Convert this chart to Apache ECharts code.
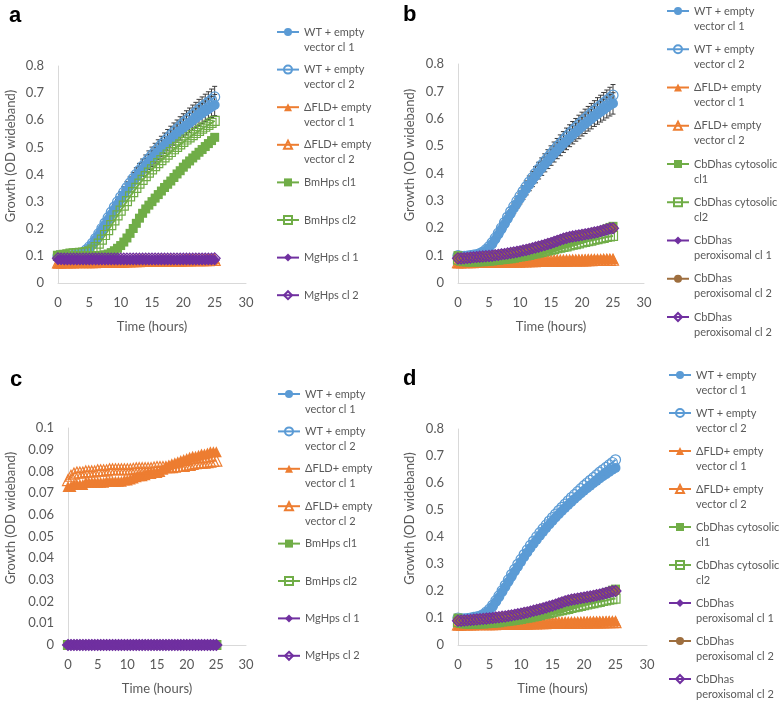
<!DOCTYPE html>
<html><head><meta charset="utf-8">
<script src="https://cdn.jsdelivr.net/npm/echarts@6/dist/echarts.min.js"></script>
<style>html,body{margin:0;padding:0;background:#fff}#c{width:784px;height:704px}</style>
</head><body><div id="c"></div><script>
// ---- data ----
const T = [0,0.5,1,1.5,2,2.5,3,3.5,4,4.5,5,5.5,6,6.5,7,7.5,8,8.5,9,9.5,10,10.5,11,11.5,12,12.5,13,13.5,14,14.5,15,15.5,16,16.5,17,17.5,18,18.5,19,19.5,20,20.5,21,21.5,22,22.5,23,23.5,24,24.5,25];
const xTicks = [0,5,10,15,20,25,30];
const wt1 = [0.095,0.095,0.096,0.097,0.098,0.100,0.102,0.105,0.110,0.118,
  0.128,0.142,0.159,0.177,0.196,0.215,0.234,0.253,0.272,0.290,
  0.308,0.326,0.343,0.359,0.375,0.390,0.405,0.419,0.433,0.446,
  0.459,0.472,0.484,0.496,0.508,0.519,0.530,0.541,0.551,0.561,
  0.571,0.581,0.590,0.599,0.608,0.617,0.625,0.633,0.641,0.649,0.656];
const wt2 = [0.100,0.097,0.097,0.098,0.100,0.102,0.104,0.107,0.113,0.122,
  0.133,0.147,0.164,0.182,0.201,0.221,0.241,0.261,0.280,0.299,
  0.317,0.335,0.352,0.369,0.385,0.401,0.416,0.431,0.445,0.459,
  0.472,0.485,0.498,0.510,0.522,0.534,0.546,0.557,0.568,0.579,
  0.590,0.600,0.610,0.620,0.630,0.640,0.649,0.658,0.667,0.676,0.686];
const wtErr = [0.003,0.003,0.003,0.003,0.003,0.003,0.004,0.004,0.004,0.005,
  0.006,0.007,0.008,0.010,0.011,0.013,0.014,0.015,0.017,0.018,
  0.019,0.020,0.021,0.022,0.023,0.024,0.025,0.026,0.027,0.028,
  0.029,0.030,0.030,0.031,0.031,0.032,0.032,0.033,0.033,0.034,
  0.034,0.035,0.035,0.036,0.036,0.037,0.037,0.038,0.038,0.039,0.039];
const dfld1 = [0.073,0.073,0.074,0.074,0.074,0.074,0.075,0.075,0.075,0.075,
  0.075,0.075,0.075,0.0755,0.0755,0.0755,0.0755,0.0755,0.0755,0.076,
  0.076,0.0765,0.077,0.0775,0.078,0.078,0.0785,0.079,0.079,0.0795,
  0.0795,0.080,0.081,0.082,0.083,0.0835,0.084,0.0845,0.085,0.0855,
  0.086,0.0865,0.087,0.087,0.0875,0.088,0.088,0.0885,0.089,0.089,0.089];
const dfld2 = [0.076,0.078,0.079,0.0795,0.0795,0.0795,0.080,0.080,0.080,0.080,
  0.0805,0.0805,0.0805,0.0805,0.081,0.081,0.081,0.081,0.081,0.081,
  0.081,0.081,0.0812,0.0814,0.0815,0.0815,0.0815,0.0815,0.0815,0.0818,
  0.082,0.082,0.082,0.082,0.082,0.082,0.0822,0.0825,0.0825,0.0825,
  0.083,0.083,0.0835,0.0838,0.084,0.084,0.084,0.0843,0.0845,0.0848,0.085];
const bmHps1 = [0.100,0.100,0.100,0.100,0.100,0.100,0.100,0.100,0.100,0.100,
  0.100,0.100,0.100,0.101,0.102,0.104,0.107,0.112,0.119,0.128,
  0.138,0.151,0.166,0.183,0.201,0.220,0.239,0.257,0.273,0.287,
  0.300,0.313,0.326,0.339,0.352,0.364,0.376,0.389,0.402,0.414,
  0.427,0.439,0.450,0.461,0.471,0.482,0.492,0.503,0.514,0.525,0.537];
const bmHps2 = [0.100,0.102,0.104,0.106,0.108,0.109,0.110,0.111,0.112,0.114,
  0.117,0.123,0.132,0.145,0.160,0.177,0.195,0.213,0.231,0.249,
  0.267,0.285,0.302,0.319,0.335,0.351,0.366,0.380,0.394,0.407,
  0.419,0.431,0.442,0.453,0.463,0.473,0.483,0.493,0.502,0.511,
  0.520,0.529,0.537,0.545,0.553,0.561,0.569,0.576,0.583,0.590,0.598];
const mgHps1 = [0.086,0.086,0.085,0.085,0.085,0.085,0.085,0.085,0.085,0.085,
  0.085,0.085,0.085,0.085,0.085,0.085,0.085,0.085,0.085,0.085,
  0.085,0.085,0.085,0.085,0.085,0.085,0.085,0.085,0.085,0.085,
  0.085,0.085,0.085,0.085,0.085,0.085,0.085,0.085,0.085,0.085,
  0.085,0.085,0.085,0.085,0.085,0.085,0.085,0.085,0.085,0.085,0.085];
const mgHps2 = [0.091,0.090,0.090,0.090,0.090,0.090,0.090,0.090,0.090,0.090,
  0.090,0.090,0.090,0.090,0.090,0.090,0.090,0.090,0.090,0.090,
  0.090,0.090,0.090,0.090,0.090,0.090,0.090,0.090,0.090,0.090,
  0.090,0.090,0.090,0.090,0.090,0.090,0.090,0.090,0.090,0.090,
  0.090,0.090,0.090,0.090,0.090,0.090,0.090,0.090,0.090,0.090,0.091];
const cyt1 = [0.100,0.090,0.085,0.083,0.082,0.082,0.082,0.083,0.083,0.084,
  0.085,0.086,0.087,0.088,0.089,0.091,0.093,0.095,0.097,0.099,
  0.101,0.104,0.106,0.109,0.111,0.114,0.117,0.120,0.123,0.126,
  0.129,0.132,0.135,0.139,0.142,0.145,0.149,0.152,0.156,0.159,
  0.163,0.167,0.171,0.175,0.179,0.184,0.188,0.193,0.198,0.203,0.207];
const cyt2 = [0.085,0.082,0.080,0.079,0.079,0.079,0.079,0.080,0.080,0.081,
  0.082,0.083,0.084,0.085,0.087,0.088,0.090,0.091,0.093,0.095,
  0.097,0.099,0.101,0.103,0.106,0.108,0.111,0.114,0.116,0.119,
  0.122,0.124,0.127,0.129,0.132,0.134,0.137,0.140,0.142,0.145,
  0.148,0.150,0.153,0.155,0.158,0.160,0.163,0.165,0.168,0.170,0.172];
const perox1 = [0.088,0.088,0.089,0.090,0.091,0.092,0.093,0.094,0.095,0.096,
  0.097,0.098,0.100,0.101,0.103,0.104,0.106,0.108,0.110,0.112,
  0.114,0.117,0.119,0.122,0.125,0.128,0.131,0.134,0.137,0.141,
  0.144,0.148,0.152,0.156,0.160,0.163,0.166,0.168,0.170,0.172,
  0.174,0.176,0.178,0.180,0.182,0.184,0.187,0.190,0.193,0.196,0.198];
const perox2 = [0.090,0.090,0.091,0.092,0.093,0.094,0.095,0.096,0.097,0.098,
  0.099,0.100,0.102,0.103,0.105,0.106,0.108,0.110,0.112,0.114,
  0.116,0.119,0.121,0.124,0.127,0.130,0.133,0.136,0.139,0.143,
  0.146,0.150,0.154,0.158,0.162,0.165,0.168,0.170,0.172,0.174,
  0.176,0.178,0.180,0.182,0.185,0.187,0.190,0.193,0.196,0.199,0.200];
const zerosC = [0,0,0,0,0,0,0,0,0,0, 0,0,0,0,0,0,0,0,0,0, 0,0,0,0,0,0,0,0,0,0,
  0,0,0,0,0,0,0,0,0,0, 0,0,0,0,0,0,0,0,0,0, 0];
const noData = [];

const legendAC = ['WT + empty\nvector cl 1','WT + empty\nvector cl 2','ΔFLD+ empty\nvector cl 1','ΔFLD+ empty\nvector cl 2','BmHps cl1','BmHps cl2','MgHps cl 1','MgHps cl 2'];
const legendBD = ['WT + empty\nvector cl 1','WT + empty\nvector cl 2','ΔFLD+ empty\nvector cl 1','ΔFLD+ empty\nvector cl 2','CbDhas cytosolic\ncl1','CbDhas cytosolic\ncl2','CbDhas\nperoxisomal cl 1','CbDhas\nperoxisomal cl 2','CbDhas\nperoxisomal cl 2'];
const panelLetters = ['a','b','c','d'];
const yTitle = 'Growth (OD wideband)';
const xTitle = 'Time (hours)';

// ---- styles ----
const FONT = 'Lato';
const GRAY = '#595959';
const STY = {
  wt1:{c:'#5B9BD5',s:'circle',z:10,f:true}, wt2:{c:'#5B9BD5',s:'circle',z:10,f:false},
  fl1:{c:'#ED7D31',s:'triangle',z:11,f:true}, fl2:{c:'#ED7D31',s:'triangle',z:11,f:false},
  g1:{c:'#70AD47',s:'rect',z:9,f:true}, g2:{c:'#70AD47',s:'rect',z:9,f:false},
  p1:{c:'#7030A0',s:'diamond',z:11,f:true}, p2:{c:'#7030A0',s:'diamond',z:11,f:false},
  br:{c:'#9E6E3E',s:'circle',z:10,f:true}
};
const LABELS = {};
function lineS(name, label, key, ys, gi){
  LABELS[name] = label;
  const s = STY[key];
  return {name, type:'line', xAxisIndex:gi, yAxisIndex:gi,
    data: ys.map((v,i)=>[T[i], v]),
    symbol:s.s, symbolSize:s.z, showSymbol:true,
    lineStyle:{color:s.c, width:2},
    itemStyle: s.f ? {color:s.c} : {color:'rgba(255,255,255,0)', borderColor:s.c, borderWidth:1.2},
    emphasis:{disabled:true}, animation:false, clip:false};
}
function errS(name, ys, es, gi){
  return {name, type:'custom', xAxisIndex:gi, yAxisIndex:gi, silent:true, animation:false,
    data: ys.map((v,i)=>[T[i], v, es[i]]),
    renderItem:function(params, api){
      const x=api.value(0), y=api.value(1), e=api.value(2);
      const p1=api.coord([x,y+e]), p2=api.coord([x,y-e]); const w=2.5;
      const st={stroke:'#3a3a3a', lineWidth:1};
      return {type:'group', children:[
        {type:'line', shape:{x1:p1[0],y1:p1[1],x2:p2[0],y2:p2[1]}, style:st},
        {type:'line', shape:{x1:p1[0]-w,y1:p1[1],x2:p1[0]+w,y2:p1[1]}, style:st},
        {type:'line', shape:{x1:p2[0]-w,y1:p2[1],x2:p2[0]+w,y2:p2[1]}, style:st}]};
    }};
}
const series = [];
// panel a
series.push(errS('ea1', wt1, wtErr, 0), errS('ea2', wt2, wtErr, 0));
[[wt1,'wt1'],[wt2,'wt2'],[dfld1,'fl1'],[dfld2,'fl2'],[bmHps1,'g1'],[bmHps2,'g2'],[mgHps1,'p1'],[mgHps2,'p2']]
  .forEach((d,i)=>series.push(lineS('a'+i, legendAC[i], d[1], d[0], 0)));
// panel b
series.push(errS('eb1', wt1, wtErr, 1), errS('eb2', wt2, wtErr, 1));
const bdSets = [[wt1,'wt1'],[wt2,'wt2'],[dfld1,'fl1'],[dfld2,'fl2'],[cyt1,'g1'],[cyt2,'g2'],[perox1,'p1'],[perox2,'br'],[perox2,'p2']];
bdSets.forEach((d,i)=>series.push(lineS('b'+i, legendBD[i], d[1], d[0], 1)));
// panel c
[[noData,'wt1'],[noData,'wt2'],[dfld1,'fl1'],[dfld2,'fl2'],[zerosC,'g1'],[zerosC,'g2'],[zerosC,'p1'],[zerosC,'p2']]
  .forEach((d,i)=>series.push(lineS('c'+i, legendAC[i], d[1], d[0], 2)));
// panel d
bdSets.forEach((d,i)=>series.push(lineS('d'+i, legendBD[i], d[1], d[0], 3)));

const grids = [
  {left:58, top:66, width:188, height:217},
  {left:458, top:64, width:186, height:219},
  {left:68, top:428, width:178, height:217},
  {left:458, top:429, width:189, height:216}
];
const yMax = [0.8,0.8,0.1,0.8], yInt=[0.1,0.1,0.01,0.1], yGap=[41,42,51,42];
const axisLine = {show:true, lineStyle:{color:'#d9d9d9', width:1}};
const xAxis = grids.map((g,i)=>({type:'value', gridIndex:i, min:xTicks[0], max:xTicks[xTicks.length-1], interval:xTicks[1]-xTicks[0],
  axisLine, axisTick:{show:false}, splitLine:{show:false},
  axisLabel:{color:GRAY, fontSize:13, margin:13, fontFamily:FONT},
  name:xTitle, nameLocation:'middle', nameGap:37, nameTextStyle:{color:GRAY, fontSize:13, fontFamily:FONT}}));
const yAxis = grids.map((g,i)=>({type:'value', gridIndex:i, min:0, max:yMax[i], interval:yInt[i],
  axisLine, axisTick:{show:false}, splitLine:{show:false},
  axisLabel:{color:GRAY, fontSize:13, margin:14, fontFamily:FONT},
  name:yTitle, nameLocation:'middle', nameGap:yGap[i], nameTextStyle:{color:GRAY, fontSize:13, fontFamily:FONT, padding:[0,0,0,37]}}));

function legendFor(prefix, n, left, top, gap){
  const data=[]; for(let i=0;i<n;i++) data.push(prefix+i);
  return {orient:'vertical', left, top, height:600, padding:0, itemWidth:22, itemHeight:10, itemGap:gap,
    selectedMode:false, data,
    formatter:(nm)=>{const l=LABELS[nm]; return '\n'+l+(l.indexOf('\n')<0?'\n':'');},
    textStyle:{color:GRAY, fontSize:11, lineHeight:15, fontFamily:FONT}};
}
const legend = [
  legendFor('a',8,276,9.5,-7.4),
  legendFor('b',9,666,-11.5,-6.75),
  legendFor('c',8,277,371.5,-7.6),
  legendFor('d',9,668,352.5,-7)
];
const letterPos = [[9,5],[403,4],[10,369],[403,368]];
const graphic = panelLetters.map((t,i)=>({type:'text', left:letterPos[i][0], top:letterPos[i][1],
  style:{text:t, font:'bold 22px "Liberation Sans", Arial', fill:'#000'}}));

const chart = echarts.init(document.getElementById('c'), null, {renderer:'canvas'});
chart.setOption({animation:false, backgroundColor:'#fff', textStyle:{fontFamily:FONT},
  grid:grids, xAxis, yAxis, legend, graphic, series});
</script></body></html>
